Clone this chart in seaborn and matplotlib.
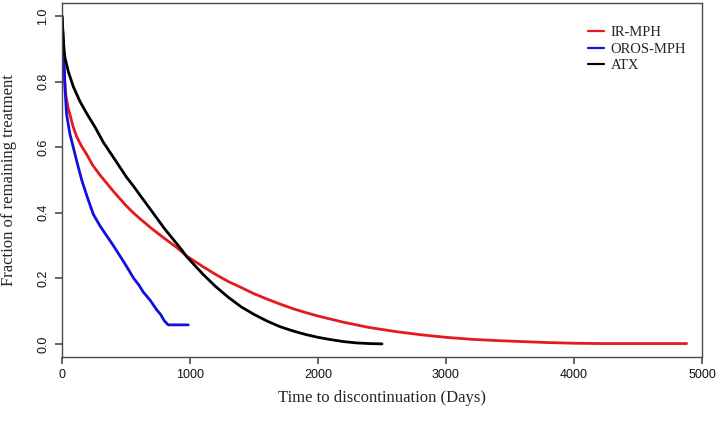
import matplotlib
matplotlib.use("Agg")
import matplotlib.pyplot as plt
import seaborn as sns
import pandas as pd

# ---- data ----
series_names = ["IR-MPH", "OROS-MPH", "ATX"]
series_colors = ["#e41a1c", "#1010e0", "#000000"]

ir_days = [0, 5, 10, 15, 22, 30, 45, 62, 85, 115, 150, 193, 240, 297, 350, 400, 450, 500, 557,
           600, 700, 800, 900, 974, 1100, 1200, 1300, 1400, 1500, 1600, 1700, 1800, 1900, 2000,
           2200, 2400, 2600, 2800, 3000, 3200, 3400, 3600, 3800, 4000, 4200, 4500, 4880]
ir_frac = [1.0, 0.95, 0.9, 0.85, 0.8, 0.76, 0.725, 0.70, 0.665, 0.632, 0.605, 0.578, 0.545, 0.515,
           0.49, 0.466, 0.444, 0.422, 0.40, 0.385, 0.352, 0.322, 0.293, 0.268, 0.236, 0.212,
           0.19, 0.172, 0.153, 0.137, 0.122, 0.108, 0.096, 0.085, 0.066, 0.05, 0.038, 0.028,
           0.02, 0.014, 0.01, 0.007, 0.004, 0.002, 0.001, 0.001, 0.001]

oros_days = [0, 5, 10, 16, 23, 36, 62, 88, 120, 154, 200, 245, 297, 340, 375, 401, 450, 505,
             560, 600, 635, 687, 740, 770, 800, 830, 900, 987]
oros_frac = [1.0, 0.97, 0.93, 0.86, 0.78, 0.70, 0.64, 0.60, 0.55, 0.50, 0.445, 0.395, 0.36,
             0.335, 0.315, 0.30, 0.27, 0.236, 0.20, 0.18, 0.158, 0.134, 0.104, 0.09, 0.07,
             0.058, 0.058, 0.058]

atx_days = [0, 5, 10, 18, 25, 50, 88, 140, 193, 260, 323, 400, 505, 557, 620, 688, 800, 935,
            974, 1100, 1200, 1300, 1400, 1500, 1600, 1700, 1800, 1900, 2000, 2100, 2200, 2300,
            2400, 2500]
atx_frac = [1.0, 0.96, 0.93, 0.89, 0.87, 0.83, 0.785, 0.74, 0.703, 0.66, 0.615, 0.57, 0.508,
            0.482, 0.448, 0.412, 0.352, 0.287, 0.266, 0.213, 0.175, 0.142, 0.113, 0.09, 0.07,
            0.053, 0.04, 0.029, 0.02, 0.013, 0.007, 0.003, 0.001, 0.0]

x_ticks = [0, 1000, 2000, 3000, 4000, 5000]
y_ticks = [0.0, 0.2, 0.4, 0.6, 0.8, 1.0]
x_label = "Time to discontinuation (Days)"
y_label = "Fraction of remaining treatment"

# ---- build table ----
frames = []
for name, d, f in zip(series_names, [ir_days, oros_days, atx_days], [ir_frac, oros_frac, atx_frac]):
    frames.append(pd.DataFrame({"days": d, "frac": f, "group": name}))
df = pd.concat(frames, ignore_index=True)

frame_color = "#4a4a4a"
sns.set_style("white")
plt.rcParams["font.family"] = ["Liberation Sans", "DejaVu Sans"]

fig = plt.figure(figsize=(7.17, 4.22), dpi=100)
W, H = 717, 422
left, right, top, bottom = 62, 702, 3, 357
ax = fig.add_axes([left / W, 1 - bottom / H, (right - left) / W, (bottom - top) / H])

sns.lineplot(data=df, x="days", y="frac", hue="group", hue_order=series_names,
             palette=dict(zip(series_names, series_colors)), estimator=None, sort=False,
             linewidth=2.0, ax=ax, legend=True)

ax.set_xlim(0, 5000)
ax.set_ylim(-0.04, 1.04)
ax.set_xticks(x_ticks)
ax.set_xticklabels([str(v) for v in x_ticks])
ax.set_yticks(y_ticks)
ax.set_yticklabels([f"{v:.1f}" for v in y_ticks], rotation=90, va="center")

for s in ax.spines.values():
    s.set_visible(True)
    s.set_color(frame_color)
    s.set_linewidth(1.0)
ax.tick_params(axis="both", which="major", bottom=True, left=True, direction="out",
               length=5, width=1.2, color=frame_color, labelsize=9, labelcolor="#111111",
               pad=4)

serif = ["Liberation Serif", "DejaVu Serif"]
ax.set_xlabel(x_label, fontsize=12, family=serif)
ax.set_ylabel(y_label, fontsize=12, family=serif)
ax.xaxis.set_label_coords(0.5, (bottom - 398) / (bottom - top))
ax.xaxis.label.set_va("center")
ax.yaxis.set_label_coords((9 - left) / (right - left), 0.5)
ax.yaxis.label.set_va("center")

leg = ax.legend(loc="upper left", bbox_to_anchor=((588 - left) / (right - left), (bottom - 26) / (bottom - top)),
                frameon=False, borderaxespad=0, borderpad=0, handlelength=1.1, handletextpad=0.45,
                labelspacing=0.22, prop={"family": serif, "size": 10.5}, title=None)
for line in leg.get_lines():
    line.set_linewidth(1.6)

fig.savefig("out.png", dpi=100)
